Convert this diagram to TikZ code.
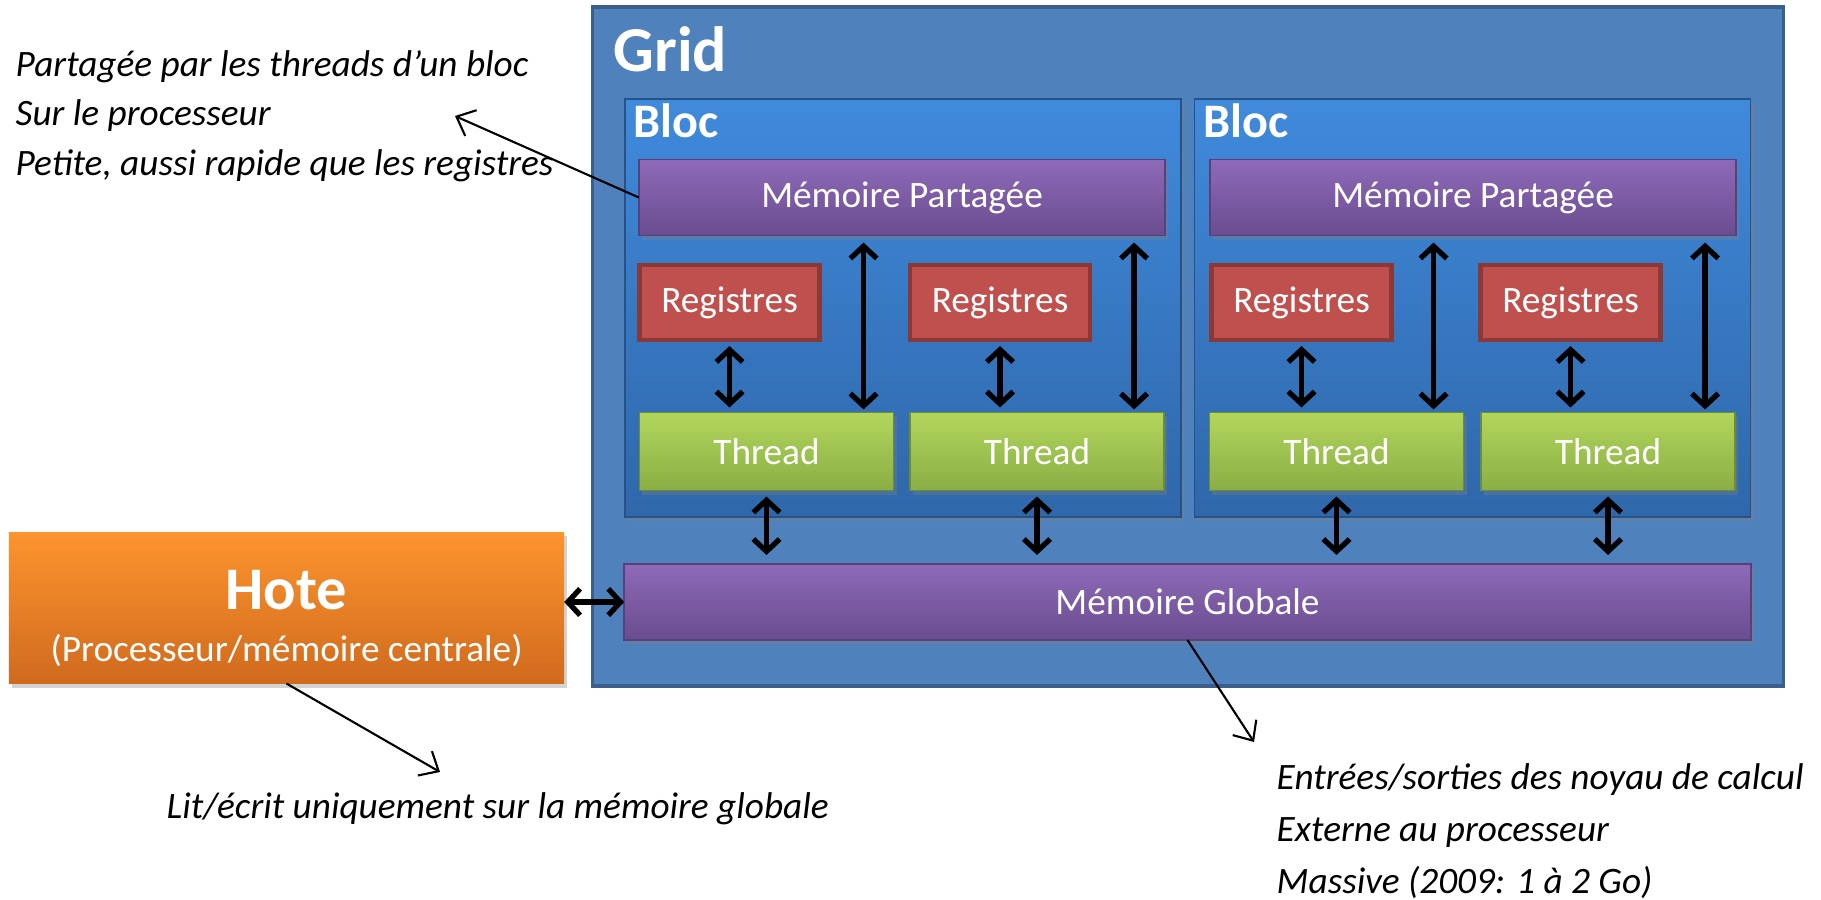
\documentclass[tikz,border=0pt]{standalone}
\usepackage{fontspec}
\setmainfont{Carlito}
\usetikzlibrary{arrows.meta,shadows}

\definecolor{gridfond}{RGB}{79,129,189}
\definecolor{gridtrait}{RGB}{58,95,140}
\definecolor{blochaut}{RGB}{64,138,220}
\definecolor{blocbas}{RGB}{47,103,170}
\definecolor{memhaut}{RGB}{142,106,184}
\definecolor{membas}{RGB}{106,76,144}
\definecolor{memtrait}{RGB}{90,64,122}
\definecolor{regfond}{RGB}{192,80,77}
\definecolor{regtrait}{RGB}{140,56,54}
\definecolor{thrhaut}{RGB}{178,214,92}
\definecolor{thrbas}{RGB}{138,174,68}
\definecolor{hotehaut}{RGB}{253,148,46}
\definecolor{hotebas}{RGB}{208,106,30}

\begin{document}
\begin{tikzpicture}[x=0.01cm,y=-0.01cm,
  ombre/.style={drop shadow={opacity=0.35,shadow xshift=0.03cm,shadow yshift=-0.04cm}},
  boite/.style={rectangle,inner sep=0pt,outer sep=0pt,text=white,font=\fontsize{10.6}{12.5}\selectfont},
  cadre/.style={boite,fill=gridfond,draw=gridtrait,line width=1pt,minimum width=11.9cm,minimum height=6.79cm},
  bloc/.style={boite,ombre,top color=blochaut,bottom color=blocbas,draw=blocbas!80!black,line width=0.4pt,minimum width=5.56cm,minimum height=4.18cm},
  mem/.style={boite,ombre,top color=memhaut,bottom color=membas,draw=memtrait,line width=0.4pt,minimum height=0.76cm},
  reg/.style={boite,fill=regfond,draw=regtrait,line width=1.2pt,minimum width=1.8cm,minimum height=0.75cm},
  thr/.style={boite,ombre,top color=thrhaut,bottom color=thrbas,draw=thrbas!80!black,line width=0.4pt,minimum width=2.54cm,minimum height=0.78cm},
  titre/.style={text=white,inner sep=0pt,anchor=base west,font=\bfseries},
  note/.style={inner sep=0pt,anchor=base west,font=\itshape\fontsize{10.6}{12}\selectfont},
  fleche/.style={{Straight Barb[length=3.5pt,width=7.5pt]}-{Straight Barb[length=3.5pt,width=7.5pt]},line width=1.5pt},
  renvoi/.style={-{Straight Barb[length=4.5pt,width=8pt]},line width=0.6pt}]

  \useasboundingbox (0,0) rectangle (1821,900);

  \node [cadre] (grid) at (1188,346.5) {};
  \node [titre,font=\bfseries\fontsize{18.2}{20}\selectfont] (tgrid) at (613,71) {Grid};

  \node [bloc] (bloc1) at (903,308) {};
  \node [bloc] (bloc2) at (1472.5,308) {};
  \node [titre,font=\bfseries\fontsize{13.7}{16}\selectfont] (tbloc1) at (633,137) {Bloc};
  \node [titre,font=\bfseries\fontsize{13.7}{16}\selectfont] (tbloc2) at (1203,137) {Bloc};

  \node [mem,minimum width=5.26cm] (mp1) at (902,197.5) {Mémoire Partagée};
  \node [mem,minimum width=5.26cm] (mp2) at (1473,197.5) {Mémoire Partagée};

  \node [reg] (reg1) at (729.5,302.5) {Registres};
  \node [reg] (reg2) at (1000,302.5) {Registres};
  \node [reg] (reg3) at (1301.5,302.5) {Registres};
  \node [reg] (reg4) at (1570.5,302.5) {Registres};

  \node [thr] (thr1) at (766.5,451.5) {Thread};
  \node [thr] (thr2) at (1037,451.5) {Thread};
  \node [thr] (thr3) at (1336.5,451.5) {Thread};
  \node [thr] (thr4) at (1608,451.5) {Thread};

  \node [mem,minimum width=11.26cm] (glob) at (1187.5,602) {Mémoire Globale};

  \node [boite,ombre,top color=hotehaut,bottom color=hotebas,minimum width=5.55cm,minimum height=1.51cm] (hote) at (286.5,608) {};
  \node [titre,anchor=base,font=\bfseries\fontsize{17.2}{20}\selectfont] (thote) at ([yshift=-0.01cm]hote.center) {Hote};
  \node [boite,anchor=base] (shote) at ([yshift=-0.53cm]hote.center) {(Processeur/mémoire centrale)};

  \foreach \i/\m in {1/1,2/1,3/2,4/2} {
    \coordinate (haut\i) at ([xshift=-0.3cm]thr\i.north east);
    \draw [fleche,shorten <=0.06cm,shorten >=0.05cm] (reg\i.south) -- (reg\i.south |- thr\i.north);
    \draw [fleche,shorten <=0.03cm,shorten >=0.07cm] (haut\i) -- (haut\i |- mp\m.south);
    \draw [fleche,shorten <=0.06cm,shorten >=0.09cm] (thr\i.south) -- (thr\i.south |- glob.north);
  }
  \draw [fleche] (hote.east |- glob.west) -- (glob.west);

  \node [note] (n1a) at (15,76) {Partagée par les threads d’un bloc};
  \node [note] (n1b) at (15,125) {Sur le processeur};
  \node [note] (n1c) at (15,175) {Petite, aussi rapide que les registres};
  \coordinate (p1) at (455,116);
  \draw [renvoi] (mp1.west) -- (p1);

  \node [note] (n2) at (166,818) {Lit/écrit uniquement sur la mémoire globale};
  \coordinate (p2) at (440,772);
  \draw [renvoi] (hote.south) -- (p2);

  \node [note] (n3a) at (1276,789) {Entrées/sorties des noyau de calcul};
  \node [note] (n3b) at (1276,841) {Externe au processeur};
  \node [note] (n3c) at (1276,893) {Massive (2009: 1 à 2 Go)};
  \coordinate (p3) at (1254,742);
  \draw [renvoi] (glob.south) -- (p3);
\end{tikzpicture}
\end{document}
